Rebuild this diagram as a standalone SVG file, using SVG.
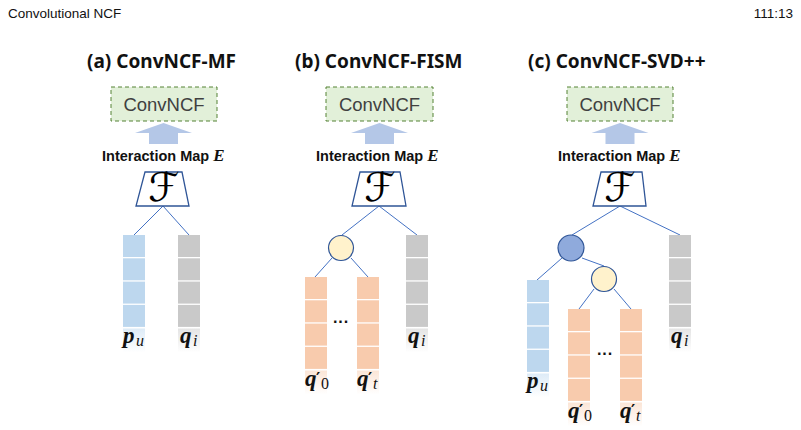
<svg xmlns="http://www.w3.org/2000/svg" width="801" height="430" viewBox="0 0 801 430">
<style>
.hdr{font-family:"Liberation Sans",Arial,sans-serif;font-size:13.5px;fill:#111}
.title{font-family:"Noto Sans","Liberation Sans",sans-serif;font-size:19px;font-weight:bold;fill:#111}
.box{fill:#E2F0D9;stroke:#548235;stroke-width:1;stroke-dasharray:4 3}
.boxt{font-family:"Liberation Sans",Arial,sans-serif;font-size:18.5px;fill:#404040;text-anchor:middle}
.arrow{fill:#B4C7E7}
.imap{font-family:"Liberation Sans",Arial,sans-serif;font-size:14.5px;font-weight:bold;fill:#111}
.mathE{font-family:"Liberation Serif","DejaVu Serif",serif;font-style:italic;font-weight:bold;font-size:17px}
.trap{fill:#fff;stroke:#2F5597;stroke-width:1.3}
.F{font-family:"DejaVu Serif","DejaVu Sans",serif;font-size:40px;fill:#000;text-anchor:middle}
.ln{stroke:#4472C4;stroke-width:1;fill:none}
.cb{fill:#BDD7EE}
.cg{fill:#C9C9C9}
.co{fill:#F8CBAD}
.ycirc{fill:#FFF2CC;stroke:#2F5597;stroke-width:1.2}
.bcirc{fill:#8FAADC;stroke:#2F5597;stroke-width:1.2}
.m{font-family:"Liberation Serif","DejaVu Serif",serif;font-size:23px;font-weight:bold;font-style:italic;fill:#111}
.sub{font-family:"Liberation Serif","DejaVu Serif",serif;font-size:16px;font-style:italic;fill:#111}
.sub0{font-family:"Liberation Serif","DejaVu Serif",serif;font-size:16px;fill:#111}
.pr{font-family:"DejaVu Sans",sans-serif;font-size:16px;font-weight:bold;fill:#111}
.dots{font-family:"Liberation Sans",Arial,sans-serif;font-size:16px;font-weight:bold;fill:#111}
</style>
<defs>
<linearGradient id="gB" x1="0" y1="0" x2="0" y2="1"><stop offset="0" stop-color="#DDEBF7"/><stop offset="1" stop-color="#fff"/></linearGradient>
<linearGradient id="gG" x1="0" y1="0" x2="0" y2="1"><stop offset="0" stop-color="#E4E4E4"/><stop offset="1" stop-color="#fff"/></linearGradient>
<linearGradient id="gO" x1="0" y1="0" x2="0" y2="1"><stop offset="0" stop-color="#FBE5D6"/><stop offset="1" stop-color="#fff"/></linearGradient>
<g id="colB"><rect class="cb" x="0" y="0" width="22" height="22"/><rect class="cb" x="0" y="23.3" width="22" height="22"/><rect class="cb" x="0" y="46.6" width="22" height="22"/><rect class="cb" x="0" y="69.9" width="22" height="22"/><rect fill="url(#gB)" x="0" y="93.5" width="22" height="24"/></g>
<g id="colG"><rect class="cg" x="0" y="0" width="22" height="22"/><rect class="cg" x="0" y="23.3" width="22" height="22"/><rect class="cg" x="0" y="46.6" width="22" height="22"/><rect class="cg" x="0" y="69.9" width="22" height="22"/><rect fill="url(#gG)" x="0" y="93.5" width="22" height="24"/></g>
<g id="colO"><rect class="co" x="0" y="0" width="22" height="22"/><rect class="co" x="0" y="23.3" width="22" height="22"/><rect class="co" x="0" y="46.6" width="22" height="22"/><rect class="co" x="0" y="69.9" width="22" height="22"/><rect fill="url(#gO)" x="0" y="93.5" width="22" height="24"/></g>
</defs>
<rect width="801" height="430" fill="#fff"/>
<text class="hdr" x="8" y="18">Convolutional NCF</text>
<text class="hdr" x="793" y="18" text-anchor="end">111:13</text>

<g id="connectors">
<line class="ln" x1="163" y1="206" x2="134" y2="235"/>
<line class="ln" x1="163" y1="206" x2="189" y2="235"/>
<line class="ln" x1="379" y1="206" x2="342" y2="235"/>
<line class="ln" x1="379" y1="206" x2="417" y2="235"/>
<line class="ln" x1="332" y1="258" x2="315" y2="277"/>
<line class="ln" x1="351" y1="258" x2="368" y2="277"/>
<line class="ln" x1="620" y1="206" x2="572" y2="235"/>
<line class="ln" x1="620" y1="206" x2="680" y2="235"/>
<line class="ln" x1="562" y1="258" x2="537" y2="280"/>
<line class="ln" x1="582" y1="258" x2="604" y2="266"/>
<line class="ln" x1="594" y1="289" x2="579" y2="309"/>
<line class="ln" x1="614" y1="289" x2="631" y2="309"/>
</g>

<g id="panel-a">
<text class="title" x="87" y="68">(a) ConvNCF-MF</text>
<g id="a-convncf"><rect class="box" x="111" y="87" width="106" height="34"/><text class="boxt" x="164" y="111">ConvNCF</text></g>
<polygon id="a-arrow" class="arrow" points="163.5,123 192,133 178,133 178,144 149,144 149,133 135,133"/>
<text id="a-imap" class="imap" x="102" y="161">Interaction Map <tspan class="mathE">E</tspan></text>
<g id="a-F"><polygon class="trap" points="145,172 182,172 189,206 136,206"/><text class="F" x="164" y="201">ℱ</text></g>
<g id="a-pu"><use href="#colB" x="123" y="235"/><text class="m" x="123" y="343">p</text><text class="sub" x="136" y="346">u</text></g>
<g id="a-qi"><use href="#colG" x="178" y="235"/><text class="m" x="180" y="343">q</text><text class="sub" x="193" y="346">i</text></g>
</g>

<g id="panel-b">
<text class="title" x="295" y="68">(b) ConvNCF-FISM</text>
<g id="b-convncf"><rect class="box" x="326" y="87" width="107" height="34"/><text class="boxt" x="379.5" y="111">ConvNCF</text></g>
<polygon id="b-arrow" class="arrow" points="379.5,123 408,133 394,133 394,144 365,144 365,133 351,133"/>
<text id="b-imap" class="imap" x="316" y="161">Interaction Map <tspan class="mathE">E</tspan></text>
<g id="b-F"><polygon class="trap" points="360,172 400,172 406,206 352,206"/><text class="F" x="380" y="201">ℱ</text></g>
<circle id="b-sum" class="ycirc" cx="341" cy="248" r="12.5"/>
<g id="b-q0"><use href="#colO" x="305" y="277"/><text class="m" x="305" y="386">q</text><text class="pr" x="316" y="384">′</text><text class="sub0" x="321" y="389">0</text></g>
<text class="dots" x="333" y="327">···</text>
<g id="b-qt"><use href="#colO" x="357" y="277"/><text class="m" x="357" y="386">q</text><text class="pr" x="368" y="384">′</text><text class="sub" x="373" y="389">t</text></g>
<g id="b-qi"><use href="#colG" x="406" y="235"/><text class="m" x="408" y="343">q</text><text class="sub" x="421" y="346">i</text></g>
</g>

<g id="panel-c">
<text class="title" x="528" y="68">(c) ConvNCF-SVD++</text>
<g id="c-convncf"><rect class="box" x="567" y="87" width="106" height="34"/><text class="boxt" x="620" y="111">ConvNCF</text></g>
<polygon id="c-arrow" class="arrow" points="620,123 648.5,133 634.5,133 634.5,144 605.5,144 605.5,133 591.5,133"/>
<text id="c-imap" class="imap" x="558" y="161">Interaction Map <tspan class="mathE">E</tspan></text>
<g id="c-F"><polygon class="trap" points="601,172 642,172 646,206 593,206"/><text class="F" x="620" y="201">ℱ</text></g>
<circle id="c-sum1" class="bcirc" cx="571" cy="248" r="13"/>
<circle id="c-sum2" class="ycirc" cx="604" cy="279" r="12.5"/>
<g id="c-pu"><use href="#colB" x="527" y="280"/><text class="m" x="527" y="388">p</text><text class="sub" x="540" y="391">u</text></g>
<g id="c-q0"><use href="#colO" x="568" y="309"/><text class="m" x="568" y="418">q</text><text class="pr" x="579" y="416">′</text><text class="sub0" x="584" y="421">0</text></g>
<text class="dots" x="597" y="359">···</text>
<g id="c-qt"><use href="#colO" x="620" y="309"/><text class="m" x="620" y="418">q</text><text class="pr" x="631" y="416">′</text><text class="sub" x="636" y="421">t</text></g>
<g id="c-qi"><use href="#colG" x="669" y="235"/><text class="m" x="671" y="343">q</text><text class="sub" x="684" y="346">i</text></g>
</g>
</svg>
